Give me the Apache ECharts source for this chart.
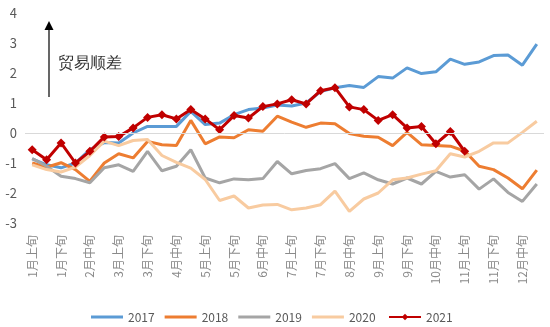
<!DOCTYPE html>
<html><head><meta charset="utf-8">
<script src="https://cdn.jsdelivr.net/npm/echarts@6/dist/echarts.min.js"></script>
<style>html,body{margin:0;padding:0;background:#fff}#c{width:550px;height:327px}</style>
</head><body><div id="c"></div>
<script>
const months = ['1月','2月','3月','4月','5月','6月','7月','8月','9月','10月','11月','12月'];
const parts = ['上旬','中旬','下旬'];
const categories = [];
months.forEach(m => parts.forEach(p => categories.push(m + p)));

const yTicks = { min: -3, max: 4, interval: 1 };
const seriesNames = ['2017','2018','2019','2020','2021'];

const y2017 = [-0.86,-1.06,-1.16,-1.0,-0.55,-0.32,-0.33,0.0,0.22,0.22,0.22,0.72,0.28,0.33,0.61,0.78,0.83,0.93,
               0.9,1.0,1.38,1.51,1.58,1.52,1.88,1.83,2.17,1.98,2.04,2.46,2.29,2.37,2.58,2.6,2.26,2.96];
const y2018 = [-1.0,-1.14,-0.99,-1.22,-1.61,-1.0,-0.69,-0.83,-0.28,-0.39,-0.42,0.42,-0.36,-0.13,-0.16,0.11,0.06,0.56,
               0.36,0.19,0.33,0.31,-0.02,-0.11,-0.14,-0.42,0.02,-0.39,-0.42,-0.44,-0.6,-1.11,-1.22,-1.5,-1.86,-1.24];
const y2019 = [-0.85,-1.11,-1.44,-1.52,-1.66,-1.16,-1.06,-1.28,-0.61,-1.26,-1.11,-0.56,-1.5,-1.66,-1.53,-1.56,-1.52,-0.95,
               -1.36,-1.25,-1.19,-1.02,-1.52,-1.33,-1.56,-1.7,-1.5,-1.7,-1.28,-1.47,-1.39,-1.87,-1.53,-1.98,-2.28,-1.7];
const y2020 = [-1.06,-1.22,-1.3,-1.14,-0.75,-0.27,-0.42,-0.25,-0.22,-0.75,-0.98,-1.17,-1.55,-2.25,-2.1,-2.5,-2.4,-2.38,
               -2.56,-2.5,-2.39,-1.94,-2.61,-2.2,-2.0,-1.56,-1.5,-1.37,-1.26,-0.69,-0.8,-0.61,-0.33,-0.33,0.02,0.39];
const y2021 = [-0.56,-0.89,-0.33,-1.0,-0.61,-0.13,-0.12,0.17,0.52,0.61,0.47,0.78,0.47,0.11,0.58,0.5,0.88,0.97,
               1.11,0.97,1.41,1.51,0.87,0.78,0.42,0.61,0.17,0.22,-0.36,0.05,-0.61];

const colors = ['#5b9bd5','#ed7d31','#a5a5a5','#f8cba0','#c00000'];
const dataSets = [y2017,y2018,y2019,y2020,y2021];
const font = '"Noto Sans CJK SC", "Noto Sans", sans-serif';

const series = dataSets.map((d, i) => {
  const isRed = i === 4;
  const s = {
    name: seriesNames[i], type: 'line', data: d,
    symbol: isRed ? 'diamond' : 'none',
    symbolSize: isRed ? 9 : 0,
    showSymbol: isRed,
    itemStyle: { color: colors[i] },
    lineStyle: { color: colors[i], width: 3 },
    animation: false
  };
  if (i === 0) {
    s.markLine = {
      silent: true, symbol: 'none', label: { show: false },
      lineStyle: { color: '#d9d9d9', width: 1, type: 'solid' },
      data: [{ yAxis: 0 }], animation: false
    };
  }
  return s;
});

const legendText = { fontSize: 12, color: '#595959', fontFamily: font };
const chart = echarts.init(document.getElementById('c'), null, { renderer: 'canvas' });
chart.setOption({
  animation: false,
  textStyle: { fontFamily: font },
  grid: { left: 25, right: 6, top: 13, bottom: 104, containLabel: false },
  xAxis: {
    type: 'category', data: categories, boundaryGap: true,
    axisLine: { show: false }, axisTick: { show: false },
    axisLabel: { interval: 1, rotate: 90, fontSize: 12, color: '#8a8a8a', margin: 12, fontFamily: font }
  },
  yAxis: {
    type: 'value', min: yTicks.min, max: yTicks.max, interval: yTicks.interval,
    axisLine: { show: false }, axisTick: { show: false }, splitLine: { show: false },
    axisLabel: { fontSize: 13, color: '#595959', margin: 8, fontFamily: font }
  },
  legend: [
    {
      left: 86, top: 306, itemWidth: 32, itemHeight: 3, itemGap: 10, icon: 'rect',
      textStyle: legendText, data: seriesNames.slice(0, 4)
    },
    {
      left: 383, top: 306, itemWidth: 32, itemHeight: 8, itemGap: 10,
      textStyle: legendText, data: seriesNames.slice(4)
    }
  ],
  graphic: [
    { type: 'line', shape: { x1: 49, y1: 97, x2: 49, y2: 28 }, style: { stroke: '#000', lineWidth: 1.2 } },
    { type: 'polygon', shape: { points: [[49, 21], [44.5, 30], [53.5, 30]] }, style: { fill: '#000' } },
    { type: 'text', left: 58, top: 56, style: { text: '贸易顺差', fontSize: 16, fill: '#333', font: '16px "Noto Sans CJK SC"' } }
  ],
  series: series
});
</script></body></html>
